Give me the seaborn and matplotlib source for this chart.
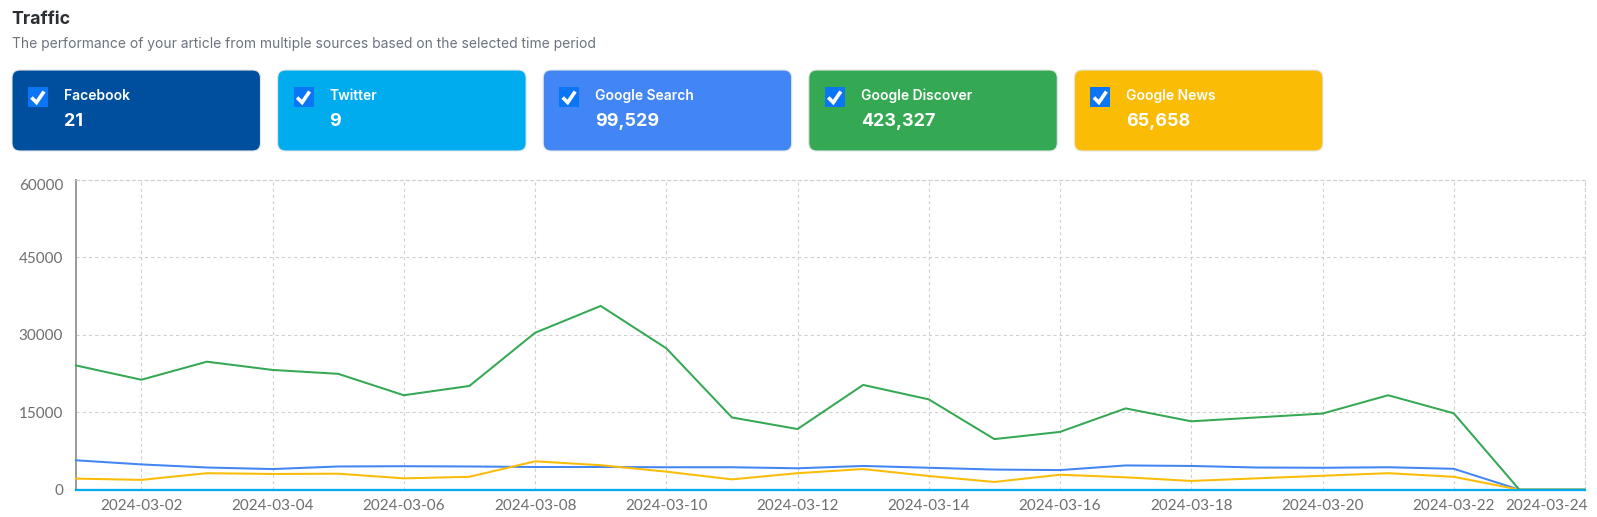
import pandas as pd
import matplotlib
matplotlib.use('Agg')
import matplotlib.pyplot as plt
import matplotlib.dates as mdates
from matplotlib.patches import FancyBboxPatch, Rectangle
from matplotlib.transforms import ScaledTranslation
import seaborn as sns

dates = pd.date_range('2024-03-01', '2024-03-24')

facebook = [0] * 24
twitter = [0] * 24
google_search = [5700, 4900, 4300, 4000, 4500, 4550, 4500, 4400, 4400, 4350, 4350, 4150,
                4600, 4250, 3900, 3800, 4700, 4600, 4300, 4250, 4350, 4050, 0, 0]
google_discover = [24080, 21300, 24800, 23200, 22450, 18300, 20100, 30400, 35600, 27400, 14000, 11750,
                   20300, 17500, 9800, 11200, 15750, 13250, 14000, 14750, 18300, 14800, 0, 0]
google_news = [2150, 1900, 3200, 3050, 3100, 2200, 2500, 5500, 4750, 3500, 2000, 3200,
               4000, 2650, 1500, 2900, 2400, 1700, 2200, 2700, 3200, 2500, 0, 0]

card_names = ['Facebook', 'Twitter', 'Google Search', 'Google Discover', 'Google News']
card_totals = ['21', '9', '99,529', '423,327', '65,658']
card_colors = ['#004F9F', '#00ACEE', '#4285F4', '#34A853', '#FBBC05']
y_ticks = [0, 15000, 30000, 45000, 60000]

W, H = 1597, 517

sns.set_theme(style='white')
plt.rcParams['font.family'] = ['Inter', 'DejaVu Sans']

palette = dict(zip(card_names, card_colors))

fig = plt.figure(figsize=(W / 100, H / 100), dpi=100)

# overlay in pixel coords for the header and the cards
bg = fig.add_axes([0, 0, 1, 1])
bg.set_xlim(0, W)
bg.set_ylim(H, 0)
bg.axis('off')

bg.text(11.5, 19, 'Traffic', fontsize=12.8, fontweight='bold', color='#2b2f33', va='center')
bg.text(11.5, 44, 'The performance of your article from multiple sources based on the selected time period',
        fontsize=9.98, color='#6c7480', va='center')

for i, (name, total, color) in enumerate(zip(card_names, card_totals, card_colors)):
    x0 = 12 + i * 265.6
    bg.add_patch(FancyBboxPatch((x0, 70), 248.5, 81, boxstyle='round,pad=0,rounding_size=8',
                                fc=color, ec='#e3e6ea', lw=0.8))
    bg.add_patch(Rectangle((x0 + 16, 87), 20, 20, fc='#0a76f6', ec='none'))
    bg.plot([x0 + 19.5, x0 + 24.5, x0 + 32], [97.5, 102.5, 91.5], color='white', lw=2.6,
            solid_capstyle='butt', solid_joinstyle='miter')
    bg.text(x0 + 52, 96, name, fontsize=10, fontweight='semibold', color='white', va='center')
    bg.text(x0 + 52, 121, total, fontsize=12.9, fontweight='bold', color='white', va='center')

# chart
ax = fig.add_axes([75.7 / W, 1 - 489.7 / H, (1585 - 75.7) / W, (489.7 - 180) / H])
ax.set_facecolor('none')

# drawn one by one so Twitter ends up on top along the zero line
series = [('Facebook', facebook), ('Google Search', google_search), ('Google News', google_news),
          ('Google Discover', google_discover), ('Twitter', twitter)]
for name, values in series:
    sns.lineplot(x=dates, y=values, color=palette[name], ax=ax, linewidth=1.45,
                 errorbar=None, clip_on=False, zorder=3)

ax.set_xlim(dates[0], dates[-1])
ax.set_ylim(0, 60000)
ax.set_yticks(y_ticks)
ax.set_xticks(dates[1::2])
ax.xaxis.set_major_formatter(mdates.DateFormatter('%Y-%m-%d'))
ax.set_xlabel('')
ax.set_ylabel('')
ax.grid(True, color='#cfcfcf', linestyle=(0, (2.8, 2.8)), linewidth=0.8)
ax.set_axisbelow(True)

for side in ['top', 'right']:
    ax.spines[side].set_color('#cfcfcf')
    ax.spines[side].set_linestyle((0, (2.8, 2.8)))
    ax.spines[side].set_linewidth(0.8)
ax.spines['left'].set_color('#9a9a9a')
ax.spines['left'].set_linewidth(1.4)
ax.spines['bottom'].set_color('#00ACEE')
ax.spines['bottom'].set_linewidth(1.6)

ax.tick_params(axis='y', length=6, width=0.8, color='#9a9a9a', pad=3)
ax.tick_params(axis='x', length=6, width=0.8, color='#8a8a8a', pad=1)
for lab in ax.get_xticklabels() + ax.get_yticklabels():
    lab.set_fontfamily(['Lato', 'DejaVu Sans'])
    lab.set_fontsize(11)
    lab.set_color('#6e6e6e')

# last date label is pulled back inside the figure, top y label sits below its tick
last = ax.get_xticklabels()[-1]
last.set_ha('right')
last.set_transform(last.get_transform() + ScaledTranslation(3 / 100, 0, fig.dpi_scale_trans))
top = ax.get_yticklabels()[-1]
top.set_transform(top.get_transform() + ScaledTranslation(0, -4 / 100, fig.dpi_scale_trans))

fig.savefig('out.png', dpi=100)
